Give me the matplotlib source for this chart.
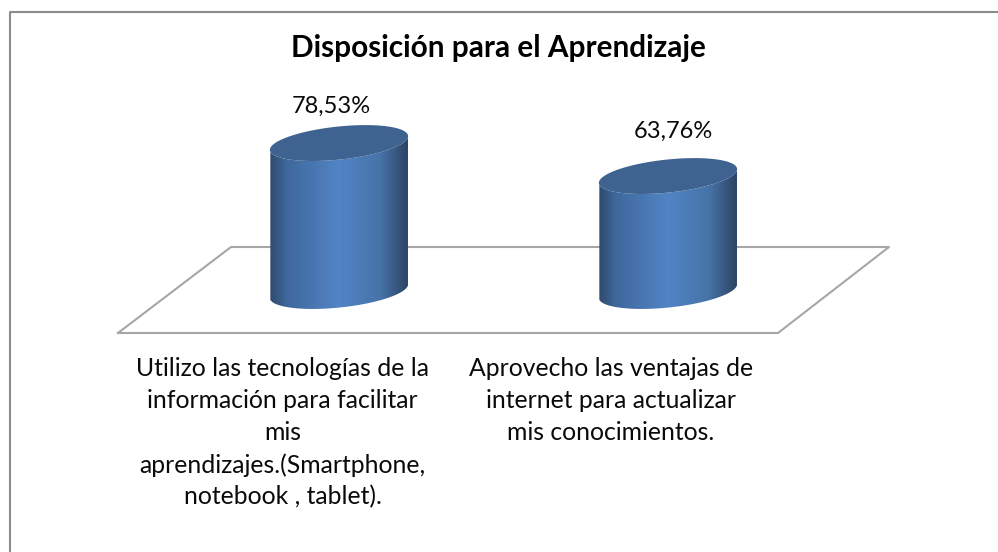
import numpy as np
import matplotlib.pyplot as plt
from matplotlib.colors import LinearSegmentedColormap
from matplotlib.patches import PathPatch
from matplotlib.path import Path

plt.rcParams['font.family'] = ['Lato', 'DejaVu Sans']

titulo = "Disposición para el Aprendizaje"
categorias = [
    "Utilizo las tecnologías de la\ninformación para facilitar\nmis\naprendizajes.(Smartphone,\nnotebook , tablet).",
    "Aprovecho las ventajas de\ninternet para actualizar\nmis conocimientos.",
]
valores = [78.53, 63.76]
etiquetas = ["78,53%", "63,76%"]

ANCHO, ALTO = 998, 552
PX_CAT = 329.0     # pixeles entre categorias
PX_VAL = 2.234     # pixeles por punto porcentual
BASE = 12.3        # valor en el piso del grafico
X0, Y0 = 339.0, 291.0


def a_datos(px, py):
    return (np.asarray(px, float) - X0) / PX_CAT, BASE + (Y0 - np.asarray(py, float)) / PX_VAL


def elipse(x, v, t):
    # elipse inclinada, en pixeles respecto del centro
    a, b, fi = 69.5, 16.5, np.radians(-6.0)
    cx = x * PX_CAT
    px = a * np.cos(t) * np.cos(fi) - b * np.sin(t) * np.sin(fi)
    py = a * np.cos(t) * np.sin(fi) + b * np.sin(t) * np.cos(fi)
    return (cx + px) / PX_CAT, v - py / PX_VAL


def cilindro(ax, x, v):
    xb, yb = elipse(x, BASE, np.linspace(0.03 * np.pi, 0.97 * np.pi, 80))
    xt, yt = elipse(x, v, np.linspace(0.97 * np.pi, 0.03 * np.pi, 80))
    verts = list(zip(xb, yb)) + list(zip(xt, yt)) + [(xb[0], yb[0])]
    codes = [Path.MOVETO] + [Path.LINETO] * (len(verts) - 2) + [Path.CLOSEPOLY]
    mapa = LinearSegmentedColormap.from_list(
        "cil", [(0, "#2f4a6e"), (0.12, "#3f689c"), (0.5, "#5284c6"),
                (0.8, "#4673a8"), (1, "#2c4363")])
    gradiente = np.linspace(0, 1, 256).reshape(1, -1)
    im = ax.imshow(gradiente, cmap=mapa, aspect="auto", zorder=3,
                   extent=[min(xb.min(), xt.min()), max(xb.max(), xt.max()),
                           yb.min() - 1, yt.max() + 1])
    parche = PathPatch(Path(verts, codes), transform=ax.transData, fc="none", ec="none")
    ax.add_patch(parche)
    im.set_clip_path(parche)
    # tapa
    t = np.linspace(0, 2 * np.pi, 160)
    xc, yc = elipse(x, v, t)
    ax.fill(xc, yc, color="#3e6390", lw=0, zorder=4)


def main():
    fig = plt.figure(figsize=(ANCHO / 100, ALTO / 100), dpi=100)
    ax = fig.add_axes([0, 0, 1, 1])

    # marco del grafico
    mx, my = a_datos([9.5, 9.5, 998], [552, 12.5, 12.5])
    ax.plot(mx, my, color="#8c8c8c", lw=1.5, zorder=1)

    # piso
    px, py = a_datos([118, 778, 889, 231, 118], [333, 333, 247, 247, 333])
    ax.plot(px, py, color="#a6a6a6", lw=1.5, zorder=2)

    posiciones = np.arange(len(valores))
    for x, v in zip(posiciones, valores):
        cilindro(ax, x, v)

    # etiquetas de datos
    for x, v, etiqueta, dx, dy in zip(posiciones, valores, etiquetas, [-8, 5], [37, 45]):
        ax.text(x + dx / PX_CAT, v + dy / PX_VAL, etiqueta, ha="center", va="center",
                fontsize=17, color="#0a0a0a", zorder=5)

    # categorias
    for x, cat, dx in zip(posiciones, categorias, [-56.5, -57]):
        tx, ty = a_datos(X0 + x * PX_CAT + dx, 357.5)
        ax.text(tx, ty, cat, ha="center", va="top", multialignment="center",
                fontsize=17.8, linespacing=1.46, color="#0a0a0a", zorder=5)

    tx, ty = a_datos(498, 48)
    ax.text(tx, ty, titulo, ha="center", va="center", fontsize=21.4, fontweight="bold", color="black")

    ax.set_xlim(a_datos(0, 0)[0], a_datos(ANCHO, 0)[0])
    ax.set_ylim(a_datos(0, ALTO)[1], a_datos(0, 0)[1])
    ax.axis("off")
    fig.savefig("out.png", dpi=100)


if __name__ == "__main__":
    main()
